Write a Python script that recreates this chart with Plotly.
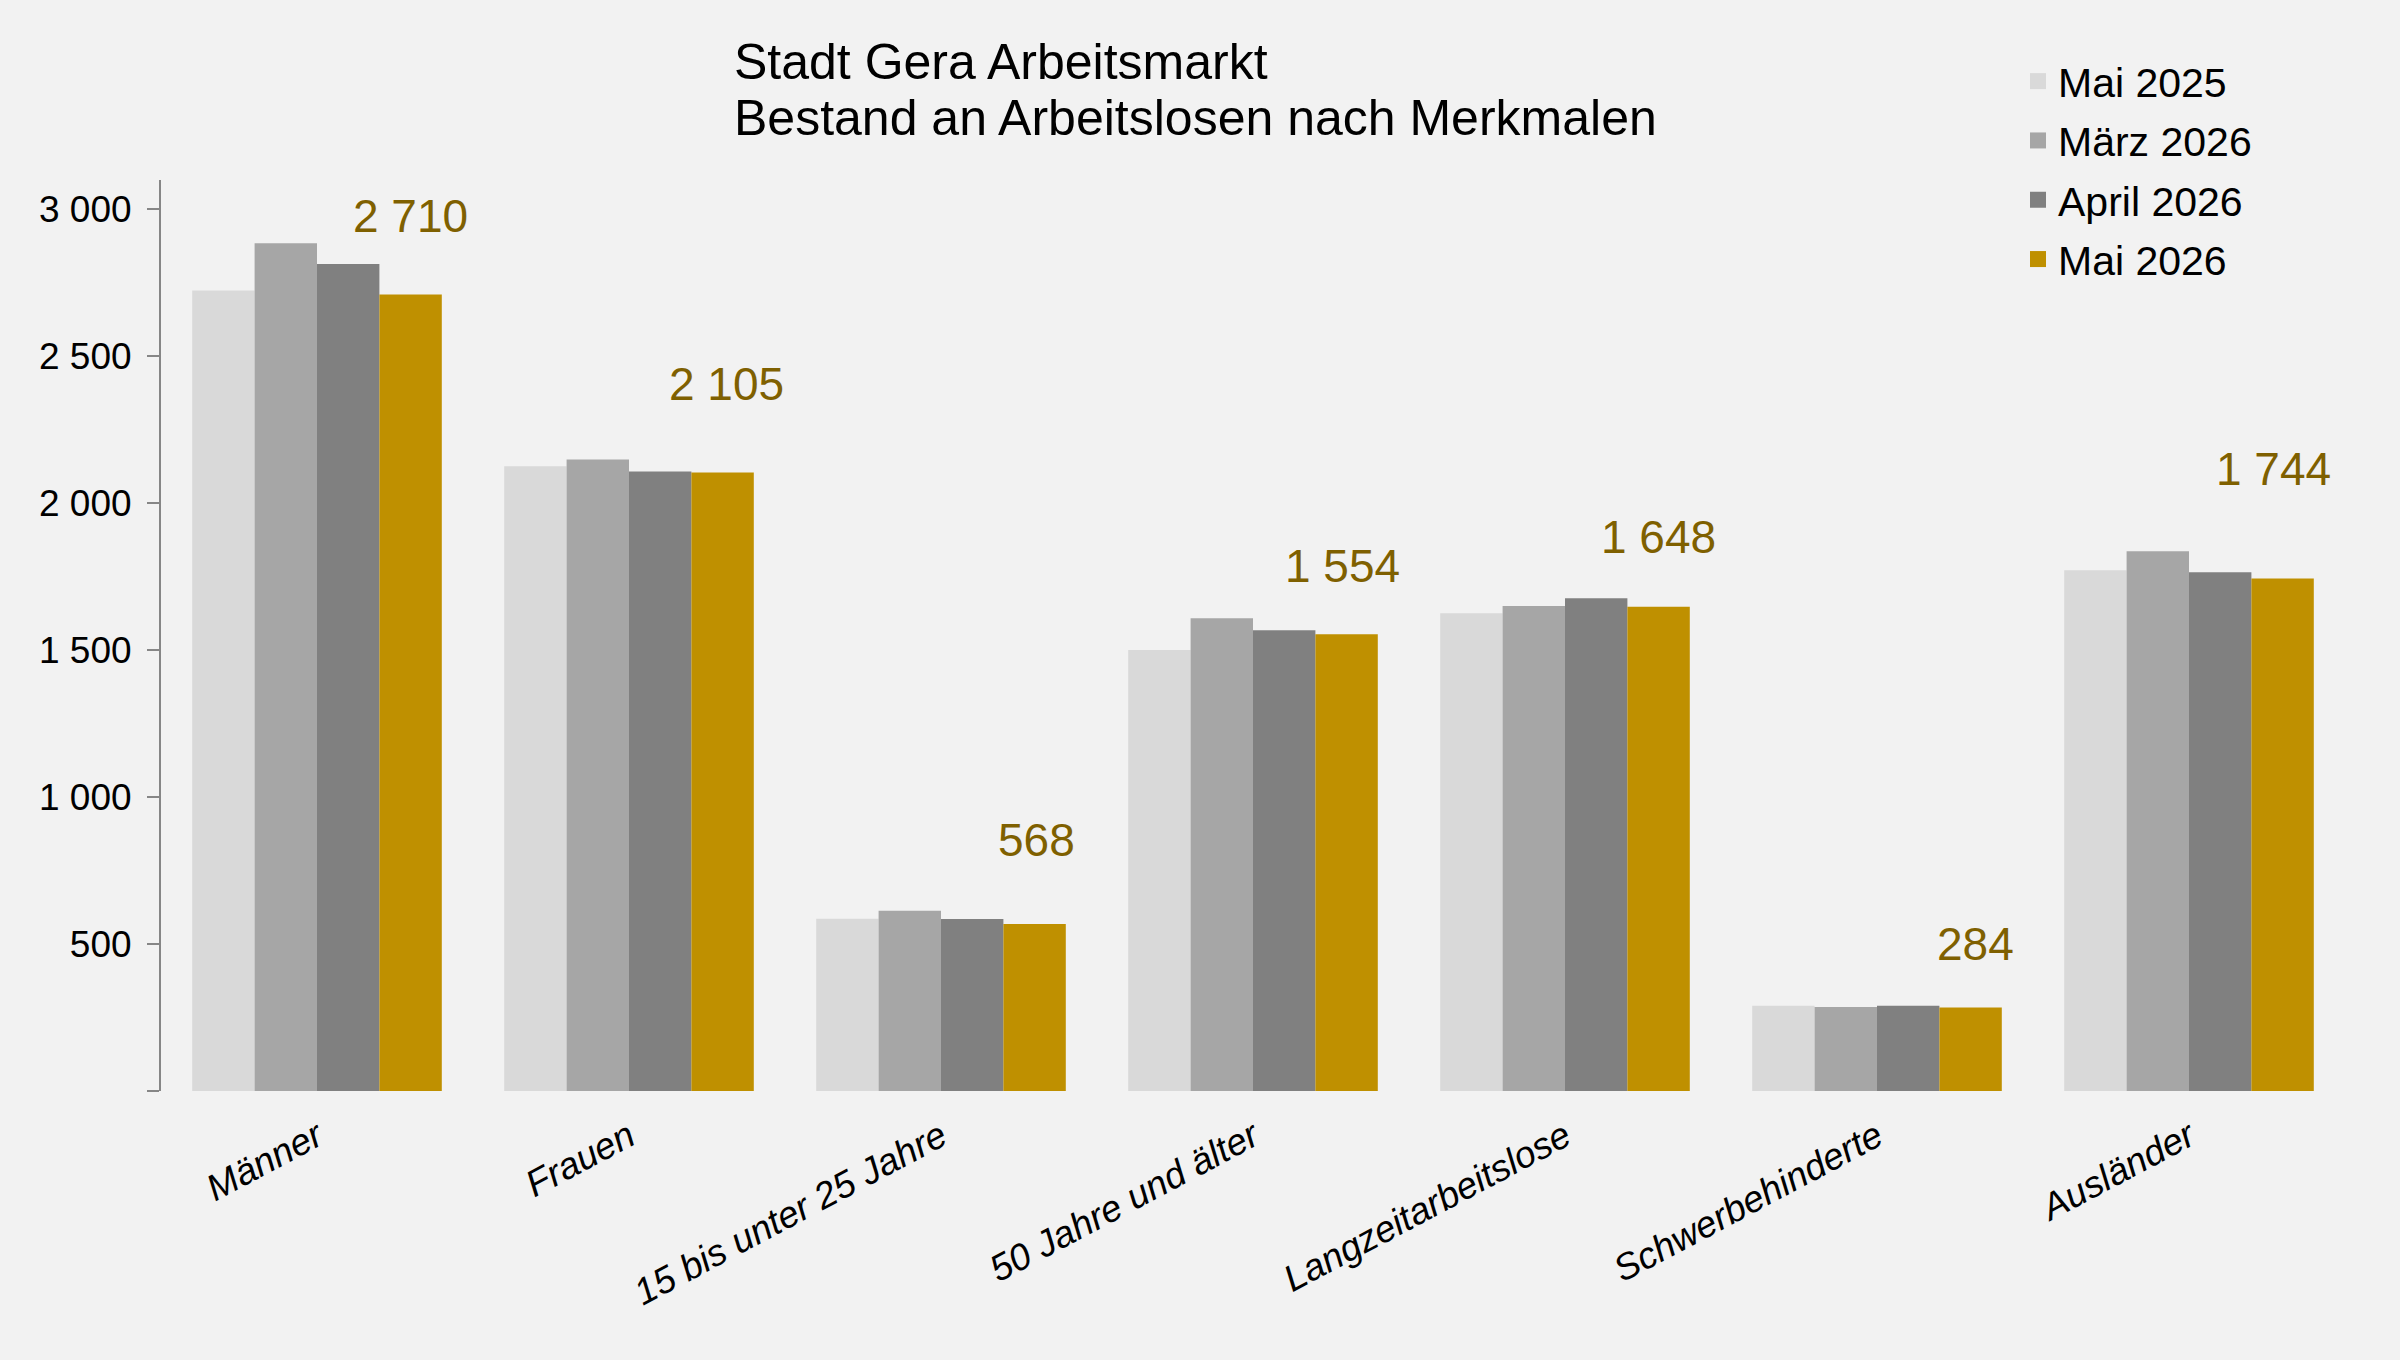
import plotly.graph_objects as go

# ---- data ----
categories = ["Männer", "Frauen", "15 bis unter 25 Jahre", "50 Jahre und älter",
              "Langzeitarbeitslose", "Schwerbehinderte", "Ausländer"]
series_names = ["Mai 2025", "März 2026", "April 2026", "Mai 2026"]
mai_2025 = [2724, 2126, 586, 1501, 1626, 290, 1772]
maerz_2026 = [2885, 2149, 613, 1609, 1650, 286, 1837]
april_2026 = [2814, 2108, 585, 1568, 1677, 290, 1765]
mai_2026 = [2710, 2105, 568, 1554, 1648, 284, 1744]
ytick_vals = [0, 500, 1000, 1500, 2000, 2500, 3000]
ytick_text = ["", "500", "1 000", "1 500", "2 000", "2 500", "3 000"]
title_line1 = "Stadt Gera Arbeitsmarkt"
title_line2 = "Bestand an Arbeitslosen nach Merkmalen"

# ---- styles ----
colors = ["#d9d9d9", "#a6a6a6", "#808080", "#bf9000"]
label_color = "#7f6000"
label_lift_px = [79, 88, 84, 68, 70, 64, 109]
label_nudge_px = [0, 4, 2, -4, 0, 5, -9]
FONT = "Liberation Sans, Arial, sans-serif"
bargap = 0.2
W, H = 2400, 1360
M_L, M_R, M_T, M_B = 161, 55, 180, 269

series = [mai_2025, maerz_2026, april_2026, mai_2026]

fig = go.Figure()
for name, vals, col in zip(series_names, series, colors):
    fig.add_trace(go.Bar(
        x=categories, y=vals, name=name, marker=dict(color=col, line=dict(width=0)),
        legendgroup=name, showlegend=False, hoverinfo="x+y+name"))
    # legend proxy (larger square symbol)
    fig.add_trace(go.Scatter(
        x=[None], y=[None], mode="markers", name=name, legendgroup=name,
        marker=dict(symbol="square", size=16, color=col, line=dict(width=0)),
        showlegend=True))

# value labels for the latest month
offset = 1.5 * (1 - bargap) / len(series)
annotations = []
for i, v in enumerate(mai_2026):
    annotations.append(dict(
        x=i + offset, y=v, xref="x", yref="y", text=f"{v:,}".replace(",", " "),
        showarrow=False, yanchor="middle", xanchor="center",
        yshift=label_lift_px[i], xshift=label_nudge_px[i],
        font=dict(family=FONT, size=46, color=label_color)))

# second title line
plot_w = W - M_L - M_R
plot_h = H - M_T - M_B
annotations.append(dict(
    text=title_line2, xref="paper", yref="paper",
    x=(732 - M_L) / plot_w, y=(H - M_B - 118) / plot_h,
    xanchor="left", yanchor="middle", showarrow=False,
    font=dict(family=FONT, size=50, color="#000000")))

fig.update_layout(
    width=W, height=H,
    paper_bgcolor="#f2f2f2", plot_bgcolor="#f2f2f2",
    margin=dict(l=M_L, r=M_R, t=M_T, b=M_B, autoexpand=False),
    barmode="group", bargap=bargap, bargroupgap=0,
    font=dict(family=FONT, color="#000000"),
    title=dict(
        text=title_line1,
        font=dict(family=FONT, size=50, color="#000000"),
        xref="container", yref="container", x=734 / W, xanchor="left",
        y=1 - 61 / H, yanchor="middle"),
    legend=dict(
        xref="container", yref="container", x=2018 / W, xanchor="left",
        y=1 - 48 / H, yanchor="top", traceorder="grouped", tracegroupgap=3,
        font=dict(family=FONT, size=41, color="#000000"),
        bgcolor="rgba(0,0,0,0)", itemsizing="trace"),
    xaxis=dict(
        type="category", range=[-0.5, 6.5], showline=False, showgrid=False,
        zeroline=False, ticks="", tickangle=-28, automargin=False,
        ticklabelstandoff=16,
        tickfont=dict(family=FONT, size=37, color="#000000", style="italic")),
    yaxis=dict(
        range=[0, 3100], tickvals=ytick_vals, ticktext=ytick_text,
        showline=True, linecolor="#868686", linewidth=2, showgrid=False,
        zeroline=False, ticks="outside", ticklen=12, tickwidth=2, tickcolor="#868686",
        ticklabelstandoff=8, automargin=False,
        tickfont=dict(family=FONT, size=37, color="#000000")),
    annotations=annotations,
    showlegend=True,
)

fig.write_html("out.html")
